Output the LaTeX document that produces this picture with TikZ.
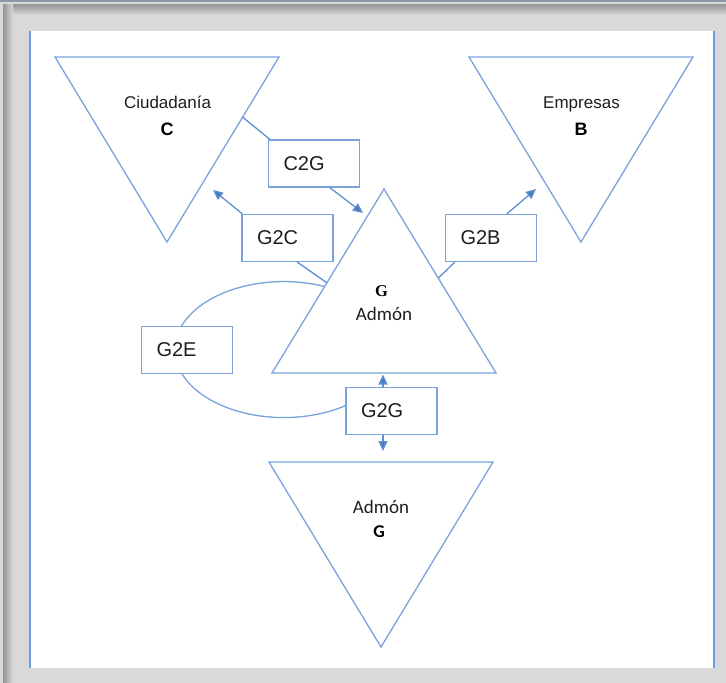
\documentclass[tikz,border=0pt]{standalone}
\usepackage{fontspec}
\setmainfont{Liberation Sans}
\newfontfamily\calibfont{Carlito}
\newfontfamily\gseriffont{Liberation Serif}
\usetikzlibrary{arrows.meta,calc}
\definecolor{framegray}{HTML}{D9D9D9}
\definecolor{shadowgray}{HTML}{959595}
\definecolor{topline}{HTML}{8E99A5}
\definecolor{shapeline}{HTML}{7AA3DD}
\definecolor{connline}{HTML}{5F8FD2}
\definecolor{tipblue}{HTML}{4A7EBB}
\definecolor{panelline}{HTML}{6C9CE0}
\definecolor{textgray}{HTML}{1E1E1E}
\begin{document}
\begin{tikzpicture}[x=1pt,y=1pt,
  tri/.style={draw=shapeline, line width=1.3pt, fill=white, line join=miter},
  box/.style={draw=shapeline, line width=1.3pt, fill=white, minimum height=47pt,
    text width=61pt, inner xsep=15pt, inner ysep=0pt, align=left, text=textgray,
    font=\fontsize{20}{22}\selectfont},
  connector/.style={draw=connline, line width=1.3pt},
  arr/.style={connector, -{Triangle[length=10pt,width=9pt,fill=tipblue]}},
  lbl/.style={anchor=base, inner sep=0pt, text=textgray, font=\fontsize{17}{19}\selectfont},
  blbl/.style={anchor=base, inner sep=0pt, font=\fontsize{18}{20}\selectfont\bfseries},
  clbl/.style={anchor=base, inner sep=0pt, text=textgray, font=\fontsize{19}{21}\selectfont\calibfont},
]
\useasboundingbox (0,0) rectangle (726,-683);
% frame
\fill[framegray] (0,0) rectangle (726,-683);
\fill[topline] (0,0) rectangle (726,-1.5);
\shade[top color=shadowgray, bottom color=framegray] (3,-4) rectangle (726,-15);
\shade[left color=shadowgray, right color=framegray] (3,-4) rectangle (13,-683);
\fill[white] (30,-31) rectangle (714,-668);
\draw[panelline, line width=1.3pt] (30,-31) -- (30,-668);
\draw[panelline, line width=1.3pt] (714,-31) -- (714,-668);

% triangle corners
\coordinate (Ca) at (55,-57);  \coordinate (Cb) at (279,-57); \coordinate (Cc) at (167,-242);
\coordinate (Ba) at (469,-57); \coordinate (Bb) at (693,-57); \coordinate (Bc) at (581,-242);
\coordinate (Gtop) at (384,-189); \coordinate (Gleft) at (272,-373); \coordinate (Gright) at (496,-373);
\coordinate (Aa) at (269,-462); \coordinate (Ab) at (493,-462); \coordinate (Ac) at (381,-647);

% G2E loop
\coordinate (Pe) at ($(Gtop)!0.53!(Gleft)$);
\draw[shapeline, line width=1.3pt] (Pe) arc[start angle=68, end angle=307, x radius=109, y radius=68];

% triangles
\draw[tri] (Ca) -- (Cb) -- (Cc) -- cycle;
\draw[tri] (Ba) -- (Bb) -- (Bc) -- cycle;
\draw[tri] (Gtop) -- (Gright) -- (Gleft) -- cycle;
\draw[tri] (Aa) -- (Ab) -- (Ac) -- cycle;

% triangle labels
\node[lbl] (cit) at (167.5,-108) {Ciudadanía};
\node[blbl] (citC) at (167,-135) {C};
\node[lbl] (emp) at (581.5,-108) {Empresas};
\node[blbl] (empB) at (581,-135) {B};
\node[anchor=base, inner sep=0pt, font=\fontsize{16.5}{18}\selectfont\gseriffont\bfseries] (gG) at (381.5,-296) {G};
\node[clbl] (gAdm) at (384,-320) {Admón};
\node[clbl] (aAdm) at (381,-513) {Admón};
\node[anchor=base, inner sep=0pt, font=\fontsize{18}{20}\selectfont\calibfont\bfseries] (aG) at (379,-537) {G};

% boxes
\node[box] (C2G) at (314,-163.5) {C2G};
\node[box] (G2C) at (287.5,-238) {G2C};
\node[box] (G2B) at (491,-238) {G2B};
\node[box] (G2E) at (187,-350) {G2E};
\node[box] (G2G) at (391.5,-411) {G2G};

% connector points
\coordinate (c2gIn) at ($(Cb)!0.325!(Cc)$);
\coordinate (c2gTip) at (363,-213);
\coordinate (g2cTip) at (213,-190);
\coordinate (g2cOut) at ($(Gtop)!0.51!(Gleft)$);
\coordinate (g2bIn) at ($(Gtop)!0.484!(Gright)$);
\coordinate (g2bTip) at (536,-189);
\coordinate (g2gUp) at (383,-374.5);
\coordinate (g2gDown) at (383,-451);

% connectors
\draw[connector] (c2gIn) -- ($(C2G.north west)+(2,0)$);
\draw[arr] ($(C2G.south west)+(62,0)$) -- (c2gTip);
\draw[arr] ($(G2C.north west)+(1,0)$) -- (g2cTip);
\draw[connector] ($(G2C.south west)+(56,0)$) -- (g2cOut);
\draw[connector] (g2bIn) -- ($(G2B.south west)+(10,0)$);
\draw[arr] ($(G2B.north west)+(62,0)$) -- (g2bTip);
\draw[arr] ($(G2G.north)+(-8.5,0)$) -- (g2gUp);
\draw[arr] ($(G2G.south)+(-8.5,0)$) -- (g2gDown);
\end{tikzpicture}
\end{document}
